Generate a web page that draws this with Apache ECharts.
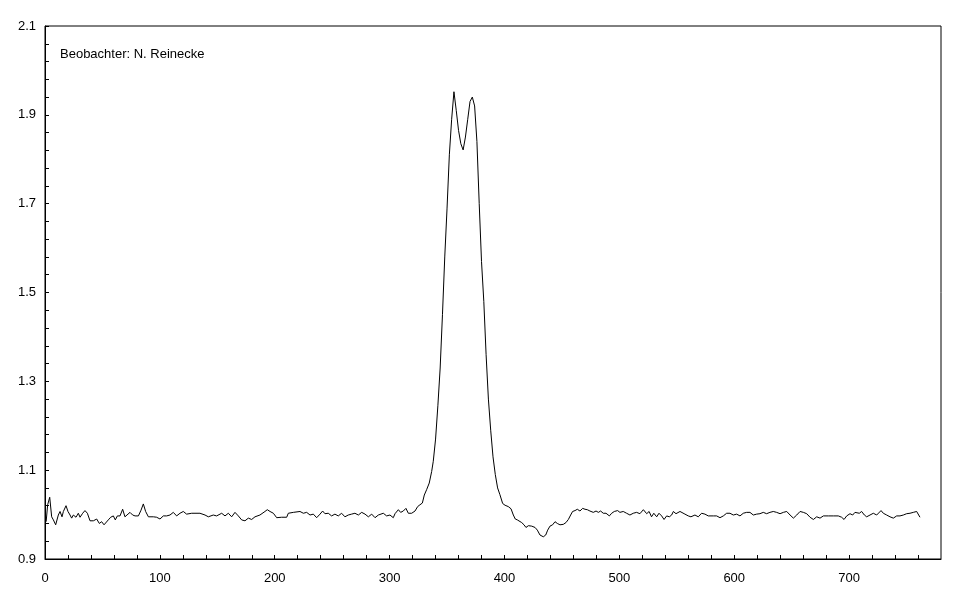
<!DOCTYPE html>
<html>
<head>
<meta charset="utf-8">
<script src="https://cdn.jsdelivr.net/npm/echarts@6/dist/echarts.min.js"></script>
<style>
html,body{margin:0;padding:0;background:#fff;}
#chart{width:968px;height:605px;}
</style>
</head>
<body>
<div id="chart"></div>
<script>
var annotation = 'Beobachter: N. Reinecke';
var xTickLabels = [0, 100, 200, 300, 400, 500, 600, 700];
var yTickLabels = [0.9, 1.1, 1.3, 1.5, 1.7, 1.9, 2.1];

var xValues = [
1,2.3,4.1,5.8,7.3,9.3,11.6,13.1,14.8,16,18.3,20,21.8,23.2,24.7,27,29,30.5,32.8,34.8,36.9,39.2,42.1,45,47.3,49.3,51.4,53.1,55.1,57.2,59.5,61.2,63,65.3,67.6,69.6,71.1,74,76.3,78.4,81.3,83.6,85.6,87.6,90,94.3,97.2,100.1,103,105.9,108.8,111.7,114.6,
117.5,120.4,123.3,127.7,134.9,139.3,142.2,146.5,149.4,153.8,156.7,159.6,162.5,165.4,168.3,171.2,174.1,177,179.9,182.8,187.1,191.5,193.5,195.9,198.8,201.7,206,210.4,211.8,216.2,222,224.9,227.8,230.7,233.6,236.5,239.4,241.7,243.7,246.6,249.5,252.4,255.3,258.2,261.1,264,266.9,269.8,272.8,275.7,278.6,281.5,284.4,287.3,290.2,
294.5,297.4,300.3,303.2,304.7,307.6,309.6,311.9,314.2,316.3,319.2,322.1,324.4,326.4,328.5,330.2,332.2,334.5,336.6,
338,340,342,344,346,348,350,352,354,356,358,360,362,364,366,368,370,372,374,376,378,380,382,384,386,388,390,392,394,396,
398.4,400.5,403.3,405.7,407.7,409.4,411.2,412.9,415,417,418.7,420.8,423.7,426.6,428.6,430.9,433.8,435.9,437.6,439.6,441.9,444,446,448.3,451.2,453.5,455.6,457.6,459.3,461.4,463.4,465.7,468,470.1,472.1,474.4,477.3,479.7,481.7,483.7,486,488.4,491.3,493.3,495.6,498.5,500.5,503.4,506.3,509.2,512.1,515,517.9,520.9,523.8,525.9,528,530,532.5,534.5,536.8,538.9,541.2,543.5,545.5,547,549.3,550.8,552.8,
554.2,557.1,560,562.3,565.8,568.7,571.6,574.5,577.4,581.8,584.7,587.6,590.5,593.4,596.3,599.2,602.1,605,607.9,610.8,613.7,616.6,619.5,
622.4,625.3,628.2,631.1,634,636.9,639.9,642.8,645.7,648.6,651.5,654.4,657.3,658.7,660.2,663.1,666,668.9,671.8,674.7,677.6,681.9,686.3,690.6,693.5,695.6,697.9,700.8,703.1,705.1,706.6,708.9,710.9,713.3,715.3,718.2,721.1,724,727.8,729.8,732.7,735.6,738.5,741.4,744.3,747.2,750.1,753,755.9,758.8,760.3,761.7
];

var yValues = [
0.984,1.022,1.039,0.995,0.988,0.977,0.999,1.007,0.995,1.007,1.02,1.007,0.999,0.992,0.999,0.994,1.003,0.994,1.003,1.009,1.003,0.986,0.986,0.99,0.98,0.984,0.977,0.98,0.988,0.994,0.997,0.988,0.997,0.997,1.012,0.995,0.992,1.005,0.999,0.997,0.997,1.01,1.024,1.007,0.995,0.995,0.994,0.99,0.997,0.997,0.999,1.005,0.997,
1.003,1.007,1.001,1.003,1.003,0.999,0.995,0.999,0.997,1.003,0.997,1.003,0.995,1.005,0.997,0.988,0.986,0.992,0.989,0.995,0.999,1.007,1.011,1.007,1.003,0.993,0.994,0.994,1.003,1.005,1.007,1.003,1.005,0.999,1.001,0.993,1.001,1.008,1.002,1.003,0.997,1.001,0.997,1.003,0.995,0.999,1.001,1.003,0.999,1.005,1.001,0.995,1.001,0.993,0.999,
1.003,0.997,0.999,0.993,1.002,1.011,1.005,1.008,1.014,1.003,1.003,1.008,1.018,1.022,1.026,1.044,1.056,1.071,1.097,
1.12,1.17,1.245,1.33,1.45,1.58,1.69,1.81,1.89,1.952,1.91,1.865,1.835,1.821,1.85,1.89,1.93,1.94,1.92,1.84,1.70,1.57,1.48,1.36,1.26,1.19,1.13,1.09,1.06,1.045,
1.025,1.021,1.018,1.013,0.999,0.99,0.988,0.984,0.982,0.977,0.971,0.975,0.974,0.971,0.965,0.954,0.95,0.954,0.965,0.974,0.977,0.984,0.98,0.977,0.978,0.982,0.989,0.999,1.007,1.009,1.012,1.008,1.014,1.012,1.011,1.008,1.005,1.008,1.005,1.008,1.003,1.003,0.997,1.003,1.007,1.009,1.005,1.007,1.003,0.999,1.003,1.005,1.002,1.011,1.002,1.007,0.995,1.003,0.995,1.003,0.997,0.989,0.997,0.995,0.999,1.007,1.002,1.005,1.007,
1.003,1.001,0.997,0.995,0.999,0.995,1.003,1.001,0.997,0.997,0.997,0.993,0.997,1.003,1.003,0.999,1.001,0.997,1.003,1.005,1.005,0.999,1.001,
1.002,1.005,1.002,1.005,1.007,1.005,1.002,1.005,1.007,0.999,0.992,0.999,1.007,1.011,1.005,1.002,0.994,0.989,0.995,0.992,0.997,0.997,0.997,0.997,0.994,0.989,0.997,1.002,0.999,1.005,1.009,1.003,1.007,0.999,0.995,0.999,1.003,0.999,1.009,1.003,0.999,0.995,0.992,0.997,0.997,0.999,1.002,1.003,1.005,1.007,1.005,0.994
];

var seriesData = xValues.map(function (x, i) { return [x, yValues[i]]; });

// tick positions (minor ticks dividing each labelled interval)
function subdivide(labels, parts) {
  var out = [];
  for (var i = 0; i < labels.length - 1; i++) {
    var a = labels[i], b = labels[i + 1];
    for (var k = 0; k < parts; k++) out.push(+(a + (b - a) * k / parts).toFixed(6));
  }
  out.push(labels[labels.length - 1]);
  return out;
}
var yTicks = subdivide(yTickLabels, 5);
var xTicks = subdivide(xTickLabels.concat([800]), 5).filter(function (v) { return v <= 760; });

var font = 'Arial, "Liberation Sans", sans-serif';
var chart = echarts.init(document.getElementById('chart'), null, { renderer: 'canvas' });
chart.setOption({
  animation: false,
  backgroundColor: '#ffffff',
  title: {
    text: annotation,
    left: 60, top: 48, padding: 0,
    textStyle: { fontSize: 13, fontWeight: 'normal', color: '#000', fontFamily: font }
  },
  grid: {
    left: 45, right: 27, top: 26, bottom: 46,
    show: true, borderColor: '#000', borderWidth: 1, backgroundColor: 'transparent'
  },
  xAxis: {
    type: 'value', min: 0, max: 780,
    axisLine: { show: true, lineStyle: { color: '#000', width: 1 } },
    axisTick: { show: true, inside: true, length: 4, lineStyle: { color: '#000' }, customValues: xTicks },
    axisLabel: { color: '#000', fontSize: 13, fontFamily: font, margin: 13, customValues: xTickLabels,
      formatter: function (v) { return String(v); } },
    splitLine: { show: false }
  },
  yAxis: {
    type: 'value', min: 0.9, max: 2.1,
    axisLine: { show: true, lineStyle: { color: '#000', width: 1 } },
    axisTick: { show: true, inside: true, length: 4, lineStyle: { color: '#000' }, customValues: yTicks },
    axisLabel: { color: '#000', fontSize: 13, fontFamily: font, margin: 9, customValues: yTickLabels,
      formatter: function (v) { return v.toFixed(1); } },
    splitLine: { show: false }
  },
  series: [{
    type: 'line',
    data: seriesData,
    showSymbol: false,
    symbol: 'none',
    lineStyle: { color: '#000', width: 1 },
    silent: true
  }]
});
</script>
</body>
</html>
